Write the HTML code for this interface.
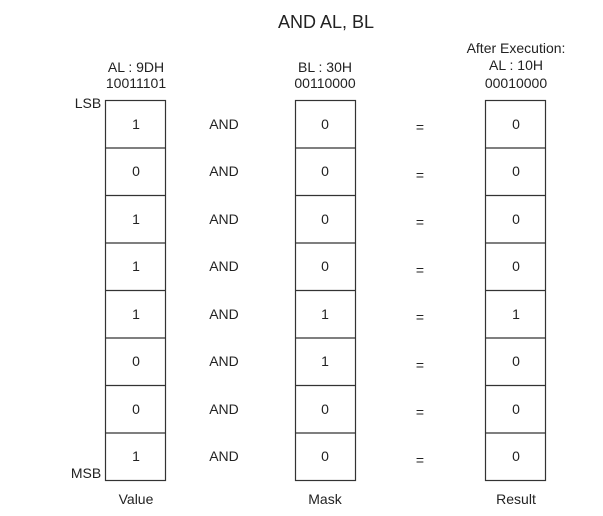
<!DOCTYPE html>
<html><head><meta charset="utf-8"><style>
html,body{margin:0;padding:0;background:#fff;}
svg text{font-family:"Liberation Sans Narrow","Liberation Sans",sans-serif;fill:#222;}
</style></head><body>
<svg width="603" height="511" viewBox="0 0 603 511" xmlns="http://www.w3.org/2000/svg">
<text x="326" y="28" font-size="18" text-anchor="middle">AND AL, BL</text>
<g font-size="14" text-anchor="middle">
<text x="136" y="72">AL : 9DH</text><text x="136" y="88">10011101</text>
<text x="325" y="72">BL : 30H</text><text x="325" y="88">00110000</text>
<text x="516" y="53">After Execution:</text><text x="516" y="70">AL : 10H</text><text x="516" y="88">00010000</text>
<text x="136" y="504">Value</text><text x="325" y="504">Mask</text><text x="516" y="504">Result</text>
</g>
<text x="88" y="108" font-size="14" text-anchor="middle">LSB</text>
<text x="86" y="478" font-size="14" text-anchor="middle">MSB</text>
<g fill="none" stroke="#333" stroke-width="1.2">
<rect x="105.5" y="100.5" width="60" height="380"/>
<rect x="295.5" y="100.5" width="60" height="380"/>
<rect x="485.5" y="100.5" width="60" height="380"/>
<path d="M105 148H166M105 195.5H166M105 243H166M105 290.5H166M105 338H166M105 385.5H166M105 433H166"/>
<path d="M295 148H356M295 195.5H356M295 243H356M295 290.5H356M295 338H356M295 385.5H356M295 433H356"/>
<path d="M485 148H546M485 195.5H546M485 243H546M485 290.5H546M485 338H546M485 385.5H546M485 433H546"/>
</g>
<g font-size="14" text-anchor="middle">
<text x="136" y="129">1</text><text x="136" y="176">0</text><text x="136" y="224">1</text><text x="136" y="271">1</text><text x="136" y="319">1</text><text x="136" y="366">0</text><text x="136" y="414">0</text><text x="136" y="461">1</text>
<text x="325" y="129">0</text><text x="325" y="176">0</text><text x="325" y="224">0</text><text x="325" y="271">0</text><text x="325" y="319">1</text><text x="325" y="366">1</text><text x="325" y="414">0</text><text x="325" y="461">0</text>
<text x="516" y="129">0</text><text x="516" y="176">0</text><text x="516" y="224">0</text><text x="516" y="271">0</text><text x="516" y="319">1</text><text x="516" y="366">0</text><text x="516" y="414">0</text><text x="516" y="461">0</text>
<text x="224" y="129">AND</text><text x="224" y="176">AND</text><text x="224" y="224">AND</text><text x="224" y="271">AND</text><text x="224" y="319">AND</text><text x="224" y="366">AND</text><text x="224" y="414">AND</text><text x="224" y="461">AND</text>
<text x="420" y="132">=</text><text x="420" y="180">=</text><text x="420" y="227">=</text><text x="420" y="275">=</text><text x="420" y="322">=</text><text x="420" y="370">=</text><text x="420" y="417">=</text><text x="420" y="465">=</text>
</g>
</svg>
</body></html>
